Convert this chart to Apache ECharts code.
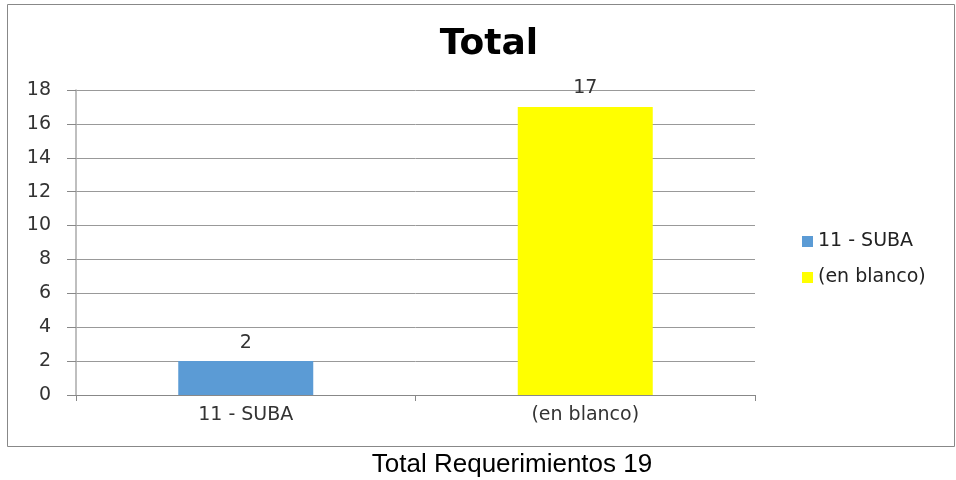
<!DOCTYPE html>
<html>
<head>
<meta charset="utf-8">
<script src="https://cdn.jsdelivr.net/npm/echarts@6/dist/echarts.min.js"></script>
<style>
  html, body { margin: 0; padding: 0; background: #fff; }
  #chart { width: 956px; height: 480px; }
</style>
</head>
<body>
<div id="chart"></div>
<script>
var categories = ["11 - SUBA", "(en blanco)"];
var values = [2, 17];
var colors = ["#5B9BD5", "#FFFF00"];
var yTicks = { min: 0, max: 18, interval: 2 };

var chartDom = document.getElementById("chart");
var myChart = echarts.init(chartDom);

var seriesList = categories.map(function (name, i) {
  var data = categories.map(function (c, j) {
    return j === i ? values[i] : "-";
  });
  return {
    type: "bar",
    name: name,
    data: data,
    stack: "all",
    barWidth: 135,
    itemStyle: { color: colors[i] },
    label: {
      show: true,
      position: "top",
      distance: 9,
      fontFamily: "DejaVu Sans",
      fontSize: 19,
      color: "#333",
    },
  };
});

var option = {
  animation: false,
  title: {
    text: "Total",
    left: 484,
    textAlign: "center",
    top: 22,
    textStyle: {
      fontFamily: "DejaVu Sans",
      fontSize: 36,
      fontWeight: "bold",
      color: "#000",
    },
  },
  legend: {
    orient: "vertical",
    left: 797,
    top: 227,
    itemWidth: 11,
    itemHeight: 11,
    itemGap: 17,
    icon: "rect",
    textStyle: {
      fontFamily: "DejaVu Sans",
      fontSize: 19,
      color: "#222",
    },
    data: categories,
  },
  grid: {
    left: 76,
    right: 201,
    top: 90,
    bottom: 85,
  },
  xAxis: {
    type: "category",
    data: categories,
    axisLine: { lineStyle: { color: "#888", width: 1 } },
    axisTick: { show: true, length: 6, lineStyle: { color: "#888" } },
    axisLabel: {
      fontFamily: "DejaVu Sans",
      fontSize: 19,
      color: "#333",
      margin: 11,
    },
  },
  yAxis: {
    type: "value",
    min: yTicks.min,
    max: yTicks.max,
    interval: yTicks.interval,
    axisLine: { show: true, lineStyle: { color: "#aaa", width: 1.5 } },
    axisTick: { show: true, length: 9, lineStyle: { color: "#888" } },
    splitLine: { lineStyle: { color: "#999", width: 1 } },
    axisLabel: {
      fontFamily: "DejaVu Sans",
      fontSize: 19,
      color: "#333",
      margin: 25,
    },
  },
  graphic: [
    {
      type: "rect",
      shape: { x: 7.5, y: 4.5, width: 947, height: 442 },
      style: { fill: null, stroke: "#888", lineWidth: 1 },
      z: -1,
    },
    {
      type: "text",
      x: 512,
      y: 465,
      style: {
        text: "Total Requerimientos 19",
        fontFamily: "Liberation Sans",
        fontSize: 26,
        fill: "#000",
        align: "center",
        verticalAlign: "middle",
      },
    },
  ],
  series: seriesList,
};

myChart.setOption(option);
</script>
</body>
</html>
